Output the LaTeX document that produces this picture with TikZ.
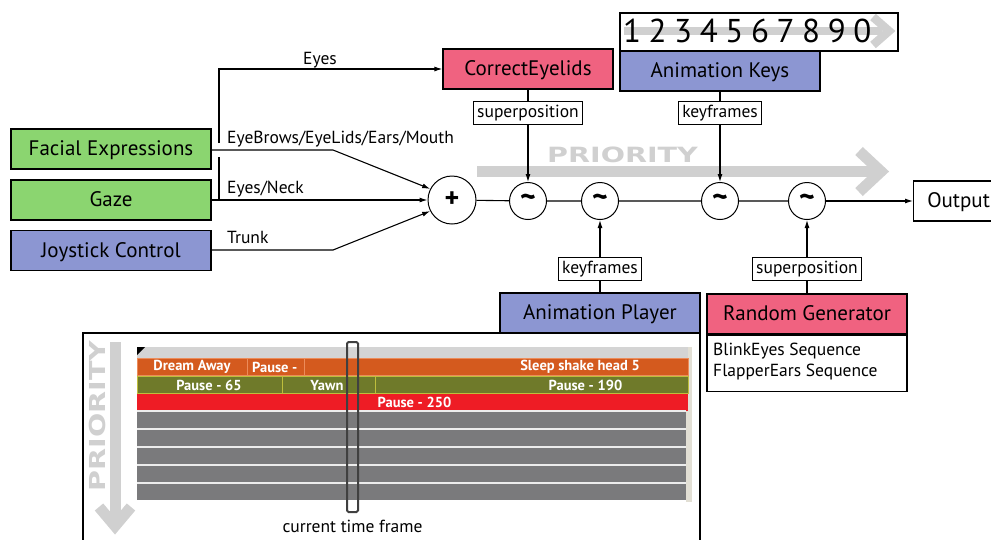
\documentclass[tikz,border=0pt]{standalone}
\usepackage{fontspec}
\setmainfont{PT Sans}
\newfontfamily\priofont{DejaVu Sans}
\usetikzlibrary{arrows.meta}
\definecolor{fgreen}{RGB}{139,213,112}
\definecolor{fblue}{RGB}{140,150,210}
\definecolor{fpink}{RGB}{240,98,128}
\definecolor{pgray}{RGB}{208,208,208}
\definecolor{torange}{RGB}{212,90,30}
\definecolor{torangeln}{RGB}{236,140,90}
\definecolor{tolive}{RGB}{111,122,42}
\definecolor{toliveln}{RGB}{190,190,60}
\definecolor{tred}{RGB}{238,28,37}
\definecolor{tgray}{RGB}{122,122,124}
\definecolor{thead}{RGB}{212,212,212}
\definecolor{tbeige}{RGB}{226,223,212}
\definecolor{tframe}{RGB}{64,64,64}
\tikzset{
  bigbox/.style={draw, line width=1.2pt, minimum width=200pt, minimum height=40pt, inner sep=0pt, text height=15pt, text depth=2pt, font=\fontsize{21}{24}\selectfont},
  lblbox/.style={draw, fill=white, line width=1pt, minimum height=23pt, inner xsep=4pt, inner ysep=0pt, text height=12.5pt, text depth=2.5pt, font=\fontsize{17.5}{20}\selectfont},
  edgelbl/.style={font=\fontsize{17.5}{20}\selectfont, inner sep=0pt},
  sumnode/.style={draw, circle, line width=1pt, fill=white, minimum size=48pt, inner sep=0pt, font=\bfseries\fontsize{28}{28}\selectfont},
  tilnode/.style={draw, circle, line width=1pt, fill=white, minimum size=37pt, inner sep=0pt, font=\bfseries\fontsize{30}{30}\selectfont},
  conn/.style={line width=1.1pt},
  arr/.style={line width=1.1pt, -{Latex[length=8pt,width=5pt]}},
  prioband/.style={line width=11pt, pgray},
  tltext/.style={text=white, font=\bfseries\fontsize{14.5}{16}\selectfont, inner sep=0pt},
  digit/.style={font=\fontsize{33}{33}\selectfont, inner sep=0pt}
}
\begin{document}
\begin{tikzpicture}[x=1pt,y=-1pt]
\useasboundingbox (0,0) rectangle (991,539);

% ---------- priority arrow (horizontal) ----------
\draw[prioband] (477,171.5) -- (876,171.5);
\draw[prioband, miter limit=10] (859,151) -- (881,171.5) -- (859,192);
\node[text=pgray, xscale=1.36, font=\priofont\bfseries\fontsize{21}{21}\selectfont, inner sep=0pt] (prioH) at (622.5,155) {PRIORITY};

% ---------- number strip ----------
\node[draw, line width=1.2pt, minimum width=278pt, minimum height=38pt, inner sep=0pt] (nums) at (759,32) {};
\draw[line width=8.5pt, pgray] (624,31) -- (882,31);
\draw[line width=8.5pt, pgray, miter limit=10] (873,17) -- (889,31) -- (873,45);
\foreach \d [count=\i from 0] in {1,2,3,4,5,6,7,8,9,0} {
  \node[digit] (dg\i) at (632+25.6*\i,31) {\d};
}

% ---------- source boxes ----------
\node[bigbox, fill=fgreen] (fe) at (111,149) {Facial Expressions};
\node[bigbox, fill=fgreen] (gz) at (111,200) {Gaze};
\node[bigbox, fill=fblue] (js) at (111,250.5) {Joystick Control};
\node[bigbox, fill=fpink, minimum width=170pt] (ce) at (528,69) {CorrectEyelids};
\node[bigbox, fill=fblue] (ak) at (720,71) {Animation Keys};
\node[bigbox, fill=fblue] (ap) at (600,313) {Animation Player};
\node[bigbox, fill=fpink] (rg) at (807,314) {Random Generator};
\node[draw, line width=1.2pt, minimum width=200pt, minimum height=56pt, inner sep=0pt, anchor=north] (rgb) at (rg.south) {};
\node[anchor=north west, inner sep=0pt, align=left, font=\fontsize{17.5}{21}\selectfont] (rgtxt) at (713,343) {BlinkEyes Sequence\\FlapperEars Sequence};
\node[draw, line width=1.2pt, minimum width=90pt, minimum height=40pt, inner sep=0pt, text height=15pt, text depth=2pt, anchor=west, font=\fontsize{21}{24}\selectfont] (out) at (913,201) {Output};

% ---------- summation chain ----------
\node[sumnode] (plus) at (452,200) {+};
\node[tilnode] (c1) at (528,201) {\raisebox{-3pt}{\char`\~}};
\node[tilnode] (c2) at (600,201) {\raisebox{-3pt}{\char`\~}};
\node[tilnode] (c3) at (720,201) {\raisebox{-3pt}{\char`\~}};
\node[tilnode] (c4) at (807,201) {\raisebox{-3pt}{\char`\~}};

\node[lblbox] (sp1) at (528,112.5) {superposition};
\node[lblbox] (kf1) at (720,112.5) {keyframes};
\node[lblbox] (kf2) at (600,268.5) {keyframes};
\node[lblbox] (sp2) at (807,268.5) {superposition};

% ---------- connectors ----------
\coordinate (fej) at (333,150);
\coordinate (jsj) at (333,250);
\coordinate (eyesj) at (219,200);
\coordinate (eyesgap) at (219,157);
\coordinate (eyesup) at (219,143);
\draw[arr] (fe.east |- fej) -- (fej) -- (plus.153);
\draw[arr] (gz.east) -- (plus.west);
\draw[arr] (js.east |- jsj) -- (jsj) -- (plus.207);
\draw[conn] (eyesj) -- (eyesgap);
\draw[arr] (eyesup) |- (ce.west);

\draw[conn] (plus) -- (c1) -- (c2) -- (c3) -- (c4);
\draw[arr] (c4) -- (out.west |- c4);

\draw[conn] (ce.south) -- (sp1.north);
\draw[arr] (sp1.south) -- (c1.north);
\draw[conn] (ak.south) -- (kf1.north);
\draw[arr] (kf1.south) -- (c3.north);
\draw[conn] (ap.north) -- (kf2.south);
\draw[arr] (kf2.north) -- (c2.south);
\draw[conn] (rg.north) -- (sp2.south);
\draw[arr] (sp2.north) -- (c4.south);

\node[edgelbl, anchor=base] (lEyes) at (320,64) {Eyes};
\node[edgelbl, anchor=base west] (lBrows) at (227,143) {EyeBrows/EyeLids/Ears/Mouth};
\node[edgelbl, anchor=base west] (lNeck) at (227,193) {Eyes/Neck};
\node[edgelbl, anchor=base west] (lTrunk) at (227,243) {Trunk};

% ---------- timeline panel ----------
\draw[line width=1.2pt] (83,560) -- (83,333) -- (700,333) -- (700,560);
% vertical priority arrow
\draw[prioband] (115,342) -- (115,522);
\draw[prioband, miter limit=10] (99,507) -- (115,526) -- (131,507);
\node[text=pgray, rotate=90, xscale=1.3, font=\priofont\bfseries\fontsize{22}{22}\selectfont, inner sep=0pt] (prioV) at (97.5,416) {PRIORITY};

\fill[tbeige] (686,347) rectangle (692,502);
\fill[thead] (137,347) rectangle (688,358);
\fill[black] (137,347) -- (145,347) -- (137,355) -- cycle;
% row 1
\fill[torange] (137,358) rectangle (688,376);
\draw[torangeln, line width=0.8pt] (137.5,358.5) rectangle (247,375.5);
\draw[torangeln, line width=0.8pt] (247,358.5) rectangle (304,375.5);
\draw[torangeln, line width=0.8pt] (304,358.5) rectangle (688,375.5);
% row 2
\fill[tolive] (137,376) rectangle (688,394);
\draw[toliveln, line width=0.8pt] (137.5,376.5) rectangle (282,393.5);
\draw[toliveln, line width=0.8pt] (282,376.5) rectangle (375,393.5);
\draw[toliveln, line width=0.8pt] (375,376.5) rectangle (688,393.5);
% row 3
\fill[tred] (137,394) rectangle (688,411);
% gray rows
\fill[tgray] (137,411) rectangle (686,500);
\foreach \yy in {411,429,447,465,483} {
  \draw[white!85!gray, line width=1.2pt] (137,\yy) -- (686,\yy);
}
\node[tltext] (t1) at (192,367) {Dream Away};
\node[tltext, anchor=west] (t2) at (252,367) {Pause -};
\node[tltext] (t3) at (580,367) {Sleep shake head 5};
\node[tltext] (t4) at (209,385) {Pause - 65};
\node[tltext] (t5) at (327,385) {Yawn};
\node[tltext] (t6) at (585.5,385) {Pause - 190};
\node[tltext] (t7) at (414.5,402.5) {Pause - 250};

\draw[tframe, line width=2pt, rounded corners=1.5pt] (347,342) rectangle (358,512);
\node[edgelbl, anchor=base] (ctf) at (352.5,532) {current time frame};
\end{tikzpicture}
\end{document}
